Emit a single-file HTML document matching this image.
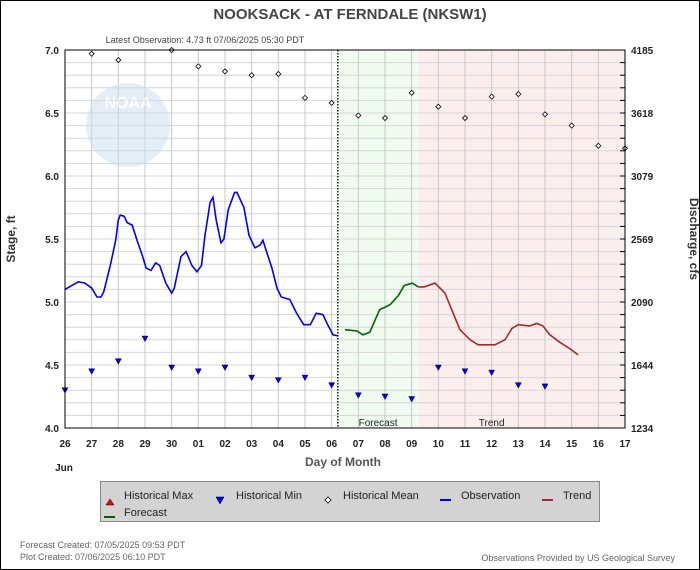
<!DOCTYPE html>
<html><head><meta charset="utf-8"><style>
body{margin:0;background:#fff}
svg{display:block;font-family:"Liberation Sans",sans-serif}
</style></head><body>
<svg id="c" width="700" height="570">
<rect x="0.5" y="0.5" width="699" height="569" fill="#fff" stroke="#000"/>
<text x="350" y="19" text-anchor="middle" font-size="15" font-weight="bold" fill="#444">NOOKSACK - AT FERNDALE  (NKSW1)</text>
<text x="205" y="43" text-anchor="middle" font-size="9" fill="#444">Latest Observation: 4.73 ft 07/06/2025 05:30 PDT</text>
<g id="bg"></g><g id="grid"></g>
<g opacity="0.5"><circle cx="128" cy="125" r="42" fill="#c8def0"/><text x="128" y="108" text-anchor="middle" font-size="16" font-weight="bold" fill="#fff">NOAA</text></g>
<g id="marks"></g><g id="axes"></g>
<text x="15" y="239" transform="rotate(-90 15 239)" text-anchor="middle" font-size="12" font-weight="bold" fill="#333">Stage, ft</text>
<text x="690" y="239" transform="rotate(90 690 239)" text-anchor="middle" font-size="12" font-weight="bold" fill="#333">Discharge, cfs</text>
<text x="343" y="466" text-anchor="middle" font-size="12" font-weight="bold" fill="#555">Day of Month</text>
<text x="64" y="471" text-anchor="middle" font-size="10" font-weight="bold" fill="#222">Jun</text>
<g>
<rect x="100.5" y="481.5" width="499" height="40" fill="#d3d3d3" stroke="#888"/>
<polygon points="110,499 106,505 114,505" fill="red" stroke="#000" stroke-width="0.5"/>
<text x="124" y="499" font-size="11" fill="#222">Historical Max</text>
<polygon points="216,497 224,497 220,504" fill="#00f" stroke="#000" stroke-width="0.5"/>
<text x="236" y="499" font-size="11" fill="#222">Historical Min</text>
<polygon points="328,497 331,500 328,503 325,500" fill="#fff" stroke="#000" stroke-width="0.8"/>
<text x="343" y="499" font-size="11" fill="#222">Historical Mean</text>
<line x1="440" y1="500" x2="451" y2="500" stroke="#00f" stroke-width="2"/>
<text x="461" y="499" font-size="11" fill="#222">Observation</text>
<line x1="542" y1="500" x2="553" y2="500" stroke="#a52a2a" stroke-width="2"/>
<text x="563" y="499" font-size="11" fill="#222">Trend</text>
<line x1="104" y1="517" x2="115" y2="517" stroke="#006400" stroke-width="2"/>
<text x="124" y="516" font-size="11" fill="#222">Forecast</text>
</g>
<text x="20" y="548" font-size="9" fill="#666">Forecast Created: 07/05/2025 09:53 PDT</text>
<text x="20" y="560" font-size="9" fill="#666">Plot Created: 07/06/2025 06:10 PDT</text>
<text x="675" y="561" text-anchor="end" font-size="9" fill="#666">Observations Provided by US Geological Survey</text>
</svg>
<script>
const dayLabels=["26","27","28","29","30","01","02","03","04","05","06","07","08","09","10","11","12","13","14","15","16","17"];
const stageTicks=[4.0,4.5,5.0,5.5,6.0,6.5,7.0];
const flowTicks=["1234","1644","2090","2569","3079","3618","4185"];
const obsT=[0,0.5,0.75,1,1.2,1.35,1.45,1.7,1.9,2,2.07,2.22,2.33,2.52,2.7,2.9,3.04,3.22,3.4,3.55,3.78,4,4.1,4.35,4.54,4.76,4.95,5.12,5.25,5.44,5.55,5.67,5.85,5.96,6.12,6.36,6.45,6.71,6.9,7.12,7.31,7.42,7.54,7.76,7.95,8.11,8.43,8.69,8.95,9.2,9.42,9.67,9.85,10.05,10.24];
const obsV=[5.10,5.16,5.15,5.11,5.04,5.04,5.08,5.29,5.49,5.65,5.69,5.68,5.63,5.61,5.49,5.37,5.27,5.25,5.31,5.29,5.15,5.07,5.11,5.36,5.40,5.29,5.24,5.29,5.53,5.79,5.83,5.65,5.47,5.50,5.73,5.87,5.87,5.75,5.53,5.43,5.45,5.49,5.41,5.27,5.11,5.04,5.02,4.91,4.82,4.82,4.91,4.90,4.82,4.74,4.73];
const fcT=[10.5,10.95,11.17,11.43,11.8,12.02,12.2,12.5,12.72,13.02,13.25];
const fcV=[4.78,4.77,4.74,4.76,4.94,4.96,4.98,5.05,5.13,5.15,5.12];
const trT=[13.25,13.47,13.875,14.25,14.81,15.19,15.49,16.12,16.5,16.76,16.99,17.43,17.69,17.92,18.18,18.56,18.93,19.24];
const trV=[5.12,5.12,5.15,5.07,4.78,4.70,4.66,4.66,4.70,4.79,4.82,4.81,4.83,4.81,4.74,4.68,4.63,4.58];
const meanT=[1,2,4,5,6,7,8,9,10,11,12,13,14,15,16,17,18,19,20,21];
const meanV=[6.97,6.92,7.0,6.87,6.83,6.80,6.81,6.62,6.58,6.48,6.46,6.66,6.55,6.46,6.63,6.65,6.49,6.40,6.24,6.22];
const minT=[0,1,2,3,4,5,6,7,8,9,10,11,12,13,14,15,16,17,18];
const minV=[4.30,4.45,4.53,4.71,4.48,4.45,4.48,4.40,4.38,4.40,4.34,4.26,4.25,4.23,4.48,4.45,4.44,4.34,4.33];
const nowT=10.23, fcEndT=13.25;
const X0=65,X1=625,Y0=428,Y1=50;
const x=t=>X0+(X1-X0)*t/21;
const y=v=>Y0-(Y0-Y1)*(v-4)/3;
const NS="http://www.w3.org/2000/svg";
function mk(tag,a,p){const e=document.createElementNS(NS,tag);for(const k in a)e.setAttribute(k,a[k]);document.getElementById(p).appendChild(e);return e;}
let e;
e=mk('rect',{x:x(nowT),y:Y1,width:x(fcEndT)-x(nowT),height:Y0-Y1,fill:'#effcef'},'bg');


e=mk('rect',{x:x(fcEndT),y:Y1,width:X1-x(fcEndT),height:Y0-Y1,fill:'#fdeeee'},'bg');


for(let v=4.1;v<7;v+=0.1){e=mk('line',{x1:X0,x2:X1,y1:y(v),y2:y(v),stroke:'#d6d6d6'},'grid');

}
for(let i=1;i<21;i++){e=mk('line',{x1:x(i),x2:x(i),y1:Y1,y2:Y0,stroke:'#c8c8c8'},'grid');

}
e=mk('text',{x:(x(nowT)+x(fcEndT))/2,y:Y0-2,'text-anchor':'middle','font-size':10,fill:'#222'},'grid');e.textContent='Forecast';


e=mk('text',{x:x(16),y:Y0-2,'text-anchor':'middle','font-size':10,fill:'#222'},'grid');e.textContent='Trend';


e=mk('line',{x1:x(nowT),x2:x(nowT),y1:Y1,y2:Y0,stroke:'#000','stroke-dasharray':'1.5,1.5','stroke-width':1.3},'marks');


function path(T,V,c,n){const d=T.map((t,i)=>(i?'L':'M')+x(t).toFixed(1)+','+y(V[i]).toFixed(1)).join('');
const p=mk('path',{d:d,fill:'none',stroke:c,'stroke-width':1.6},'marks');

}
path(obsT,obsV,'#0000ff','observation-line');
path(fcT,fcV,'#006400','forecast-line');
path(trT,trV,'#a52a2a','trend-line');
meanT.forEach((t,i)=>{const cx=x(t),cy=y(meanV[i]);
const d=mk('polygon',{points:`${cx},${cy-2.5} ${cx+2.5},${cy} ${cx},${cy+2.5} ${cx-2.5},${cy}`,fill:'#fff',stroke:'#000','stroke-width':0.8},'marks');

});
minT.forEach((t,i)=>{const cx=x(t),cy=y(minV[i]);
const d=mk('polygon',{points:`${cx-3},${cy-2.5} ${cx+3},${cy-2.5} ${cx},${cy+3}`,fill:'#0000ff',stroke:'#000','stroke-width':0.5},'marks');

});
e=mk('rect',{x:X0,y:Y1,width:X1-X0,height:Y0-Y1,fill:'none',stroke:'#000'},'axes');


stageTicks.forEach((v,i)=>{let t=mk('text',{x:X0-6,y:y(v)+4,'text-anchor':'end','font-size':10,'font-weight':'bold',fill:'#222'},'axes');t.textContent=v.toFixed(1);


t=mk('text',{x:X1+6,y:y(v)+4,'font-size':10,'font-weight':'bold',fill:'#222'},'axes');t.textContent=flowTicks[i];

});
for(let v=4.1;v<7;v+=0.1){e=mk('line',{x1:X1,x2:X1-5,y1:y(v),y2:y(v),stroke:'#000'},'axes');

}
dayLabels.forEach((s,i)=>{const t=mk('text',{x:x(i),y:447,'text-anchor':'middle','font-size':10,'font-weight':'bold',fill:'#222'},'axes');t.textContent=s;

});
</script>
</body></html>
